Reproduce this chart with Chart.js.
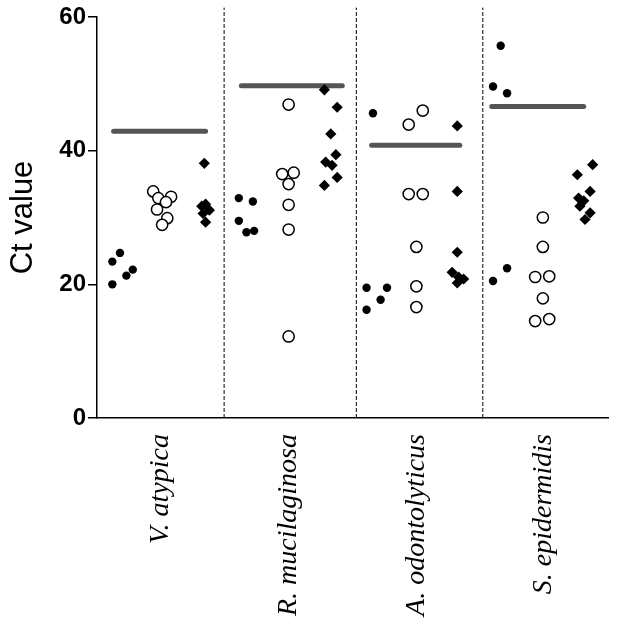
<!DOCTYPE html>
<html>
<head>
<meta charset="utf-8">
<script src="https://cdn.jsdelivr.net/npm/chart.js@4.4.1/dist/chart.umd.min.js"></script>
<style>
  html, body { margin: 0; padding: 0; background: #fff; }
  #wrap { width: 618px; height: 631px; }
</style>
</head>
<body>
<div id="wrap"><canvas id="chart"></canvas></div>
<script>
// species on the x axis
const species = ['V. atypica', 'R. mucilaginosa', 'A. odontolyticus', 'S. epidermidis'];

// filled circles
const filledCt = [
  [23.4, 24.7, 22.2, 21.3, 20.0],
  [32.9, 32.4, 29.5, 27.8, 28.0],
  [45.6, 19.5, 19.5, 17.7, 16.2],
  [55.7, 49.6, 48.6, 22.4, 20.5]
];
const filledJitter = [
  [0.12, 0.18, 0.28, 0.23, 0.12],
  [0.11, 0.22, 0.11, 0.17, 0.23],
  [0.16, 0.11, 0.27, 0.22, 0.11],
  [0.16, 0.10, 0.21, 0.21, 0.10]
];

// open circles
const openCt = [
  [33.9, 32.9, 33.1, 32.3, 31.2, 29.9, 28.9],
  [46.9, 36.5, 36.7, 35.0, 31.9, 28.2, 12.2],
  [46.0, 43.9, 33.5, 33.5, 25.6, 19.7, 16.6],
  [30.0, 25.6, 21.1, 21.2, 17.9, 14.5, 14.8]
];
const openJitter = [
  [0.44, 0.48, 0.58, 0.54, 0.47, 0.55, 0.51],
  [0.50, 0.45, 0.54, 0.50, 0.50, 0.50, 0.50],
  [0.55, 0.44, 0.44, 0.55, 0.50, 0.50, 0.50],
  [0.49, 0.49, 0.43, 0.54, 0.49, 0.43, 0.54]
];

// diamonds
const diamondCt = [
  [38.1, 32.0, 31.7, 31.1, 30.6, 29.3],
  [49.1, 46.5, 42.5, 39.4, 38.3, 37.8, 36.0, 34.8],
  [43.7, 33.9, 24.8, 21.8, 21.1, 20.8, 20.2],
  [37.9, 36.4, 33.9, 32.9, 32.5, 31.7, 30.7, 29.7]
];
const diamondJitter = [
  [0.84, 0.85, 0.82, 0.88, 0.83, 0.85],
  [0.78, 0.88, 0.83, 0.87, 0.79, 0.84, 0.88, 0.78],
  [0.82, 0.82, 0.82, 0.78, 0.83, 0.87, 0.82],
  [0.88, 0.76, 0.86, 0.77, 0.81, 0.78, 0.86, 0.82]
];

// grey horizontal bars
const barCt = [42.9, 49.7, 40.8, 46.6];
const barFrom = [0.13, 0.13, 0.15, 0.09];
const barTo = [0.85, 0.92, 0.84, 0.81];

// dashed dividers between species
const dividerX = [0.995, 2.03, 3.02];

const yTicks = [0, 20, 40, 60];

function toPoints(cts, jit) {
  const pts = [];
  cts.forEach((arr, g) => arr.forEach((v, i) => pts.push({ x: g + jit[g][i], y: v })));
  return pts;
}

const datasets = [
  {
    data: toPoints(filledCt, filledJitter),
    pointStyle: 'circle', pointRadius: 4.2,
    backgroundColor: '#000', borderColor: '#000', borderWidth: 0, order: 0
  },
  {
    data: toPoints(openCt, openJitter),
    pointStyle: 'circle', pointRadius: 5.6,
    backgroundColor: '#fff', borderColor: '#000', borderWidth: 1.5, order: 0
  },
  {
    data: toPoints(diamondCt, diamondJitter),
    pointStyle: 'rectRot', pointRadius: 5.6,
    backgroundColor: '#000', borderColor: '#000', borderWidth: 0, order: 0
  }
];

barCt.forEach((v, g) => {
  datasets.push({
    type: 'line',
    data: [{ x: g + barFrom[g], y: v }, { x: g + barTo[g], y: v }],
    borderColor: '#555', borderWidth: 5, borderCapStyle: 'round',
    pointRadius: 0, order: 2
  });
});

dividerX.forEach(x => {
  datasets.push({
    type: 'line',
    data: [{ x: x, y: 0 }, { x: x, y: 61.4 }],
    borderColor: '#000', borderWidth: 1, borderDash: [4, 2],
    pointRadius: 0, clip: false, order: 3
  });
});

new Chart(document.getElementById('chart'), {
  type: 'scatter',
  data: { datasets },
  options: {
    responsive: true,
    maintainAspectRatio: false,
    animation: false,
    layout: { padding: { top: 17, right: 10, left: 0, bottom: 0 } },
    plugins: { legend: { display: false }, tooltip: { enabled: false } },
    scales: {
      x: {
        type: 'linear', min: 0, max: 4,
        afterBuildTicks: s => { s.ticks = species.map((_, i) => ({ value: i + 0.5 })); },
        afterFit: s => { s.height = 213; },
        ticks: {
          autoSkip: false, minRotation: 90, maxRotation: 90, padding: 8,
          color: '#000',
          font: { family: 'Liberation Serif', style: 'italic', size: 28 },
          callback: (v, i) => species[i]
        },
        grid: { display: false },
        border: { display: true, color: '#000', width: 1.5 }
      },
      y: {
        min: 0, max: 60,
        afterBuildTicks: s => { s.ticks = yTicks.map(v => ({ value: v })); },
        afterFit: s => { s.width = 97; },
        ticks: {
          padding: 2, color: '#000',
          font: { family: '"Liberation Sans Narrow", "Liberation Sans", sans-serif', weight: 'bold', size: 24 }
        },
        grid: { drawOnChartArea: false, drawTicks: true, tickLength: 9, color: '#000', lineWidth: 1.5 },
        border: { display: true, color: '#000', width: 1.5 },
        title: {
          display: true, text: 'Ct value', color: '#000',
          font: { family: 'Liberation Sans', size: 31 },
          padding: { top: 5, bottom: 0 }
        }
      }
    }
  }
});
</script>
</body>
</html>
